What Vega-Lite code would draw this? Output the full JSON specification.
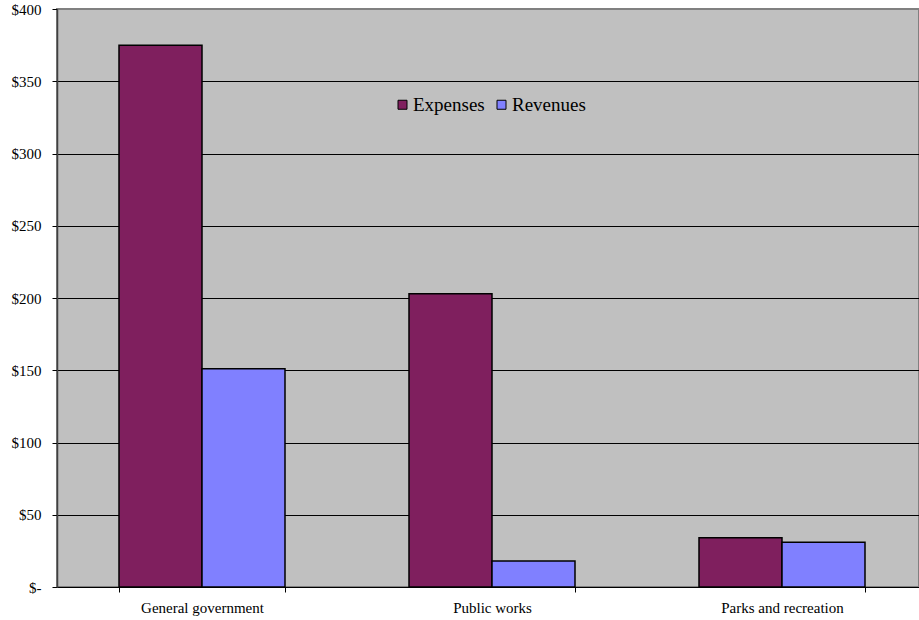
{
  "$schema": "https://vega.github.io/schema/vega-lite/v6.json",
  "width": 862,
  "height": 578,
  "autosize": {"type": "none"},
  "padding": {"left": 57, "top": 9, "right": 0, "bottom": 33},
  "background": "white",
  "config": {
    "font": "Liberation Serif",
    "axis": {"labelFont": "Liberation Serif"},
    "legend": {"labelFont": "Liberation Serif"},
    "view": {"fill": "#C0C0C0", "stroke": "#808080", "strokeWidth": 2}
  },
  "data": {
    "values": [
      {"category": "General government", "series": "Expenses", "amount": 375},
      {"category": "General government", "series": "Revenues", "amount": 151},
      {"category": "Public works", "series": "Expenses", "amount": 203},
      {"category": "Public works", "series": "Revenues", "amount": 18},
      {"category": "Parks and recreation", "series": "Expenses", "amount": 34},
      {"category": "Parks and recreation", "series": "Revenues", "amount": 31}
    ]
  },
  "mark": {"type": "bar", "stroke": "black", "strokeWidth": 1.5},
  "encoding": {
    "x": {
      "field": "category",
      "type": "nominal",
      "sort": ["General government", "Public works", "Parks and recreation"],
      "scale": {"range": [0, 870], "paddingInner": 0.4276, "paddingOuter": 0.2138},
      "axis": {
        "title": null,
        "labelAngle": 0,
        "tickBand": "extent",
        "grid": false,
        "domainColor": "black",
        "domainWidth": 1,
        "tickColor": "black",
        "tickSize": 5,
        "labelPadding": 8,
        "labelFontSize": 15,
        "labelColor": "black"
      }
    },
    "xOffset": {
      "field": "series",
      "sort": ["Expenses", "Revenues"],
      "scale": {"paddingInner": 0, "paddingOuter": 0}
    },
    "y": {
      "field": "amount",
      "type": "quantitative",
      "scale": {"domain": [0, 400], "nice": false},
      "axis": {
        "title": null,
        "values": [0, 50, 100, 150, 200, 250, 300, 350, 400],
        "labelExpr": "datum.value == 0 ? '$-' : '$' + datum.value",
        "gridColor": {"condition": {"test": "datum.value == 400", "value": "#808080"}, "value": "black"},
        "gridOpacity": 1,
        "gridWidth": 1,
        "domainColor": "#404040",
        "domainWidth": 1.5,
        "tickColor": "black",
        "tickSize": 5,
        "labelPadding": 11,
        "labelFontSize": 15,
        "labelColor": "black"
      }
    },
    "color": {
      "field": "series",
      "type": "nominal",
      "scale": {"domain": ["Expenses", "Revenues"], "range": ["#7F1F5E", "#8080FF"]},
      "legend": {
        "title": null,
        "orient": "none",
        "direction": "horizontal",
        "legendX": 336,
        "legendY": 86,
        "symbolType": "square",
        "symbolSize": 81,
        "symbolStrokeColor": "black",
        "symbolStrokeWidth": 1,
        "symbolOpacity": 1,
        "labelFontSize": 19,
        "labelColor": "black",
        "labelOffset": 1,
        "columnPadding": 7
      }
    }
  }
}
